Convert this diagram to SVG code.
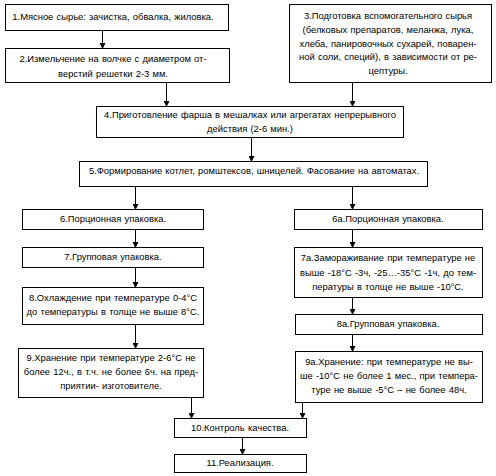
<svg xmlns="http://www.w3.org/2000/svg" width="496" height="476" viewBox="0 0 496 476">
<style>
.b{fill:#fff;stroke:#000;stroke-width:1}
.t{font-family:"Liberation Sans",Arial,sans-serif;font-size:9.4px;word-spacing:0.6px;fill:#000;text-anchor:middle}
.c{fill:none;stroke:#000;stroke-width:1}
</style>
<defs>
<marker id="a" markerWidth="6" markerHeight="6" refX="5" refY="3" orient="auto" markerUnits="userSpaceOnUse">
<path d="M0,0 L6,3 L0,6 Z" fill="#000"/>
</marker>
</defs>
<rect width="496" height="476" fill="#fff"/>
<g id="connectors">
<path class="c" d="M102.5,30 V48" marker-end="url(#a)"/>
<path class="c" d="M166.5,82 V106" marker-end="url(#a)"/>
<path class="c" d="M352.5,82 V106" marker-end="url(#a)"/>
<path class="c" d="M251.5,137 V161" marker-end="url(#a)"/>
<path class="c" d="M135.5,186 V209" marker-end="url(#a)"/>
<path class="c" d="M352.5,186 V209" marker-end="url(#a)"/>
<path class="c" d="M135.5,229 V247" marker-end="url(#a)"/>
<path class="c" d="M135.5,267 V287" marker-end="url(#a)"/>
<path class="c" d="M135.5,324 V348" marker-end="url(#a)"/>
<path class="c" d="M352.5,229 V247" marker-end="url(#a)"/>
<path class="c" d="M352.5,297 V314" marker-end="url(#a)"/>
<path class="c" d="M352.5,335 V351" marker-end="url(#a)"/>
<path class="c" d="M191.5,397 V418" marker-end="url(#a)"/>
<path class="c" d="M302.5,402 V418" marker-end="url(#a)"/>
<path class="c" d="M242.5,437 V454" marker-end="url(#a)"/>
</g>
<g id="n1"><rect class="b" x="5.5" y="4.5" width="223" height="26"/>
<text class="t" x="113" y="20">1.Мясное сырье: зачистка, обвалка, жиловка.</text></g>
<g id="n2"><rect class="b" x="5.5" y="48.5" width="224" height="34"/>
<text class="t" x="113" y="62">2.Измельчение на волчке с диаметром от-</text>
<text class="t" x="113" y="77">верстий решетки 2-3 мм.</text></g>
<g id="n3"><rect class="b" x="289.5" y="4.5" width="202" height="78"/>
<text class="t" x="388" y="19">3.Подготовка вспомогательного сырья</text>
<text class="t" x="388" y="33">(белковых препаратов, меланжа, лука,</text>
<text class="t" x="388" y="47">хлеба, панировочных сухарей, поварен-</text>
<text class="t" x="388" y="60">ной соли, специй), в зависимости от ре-</text>
<text class="t" x="388" y="74">цептуры.</text></g>
<g id="n4"><rect class="b" x="96.5" y="106.5" width="307" height="31"/>
<text class="t" x="250" y="118">4.Приготовление фарша в мешалках или агрегатах непрерывного</text>
<text class="t" x="250" y="132">действия (2-6 мин.)</text></g>
<g id="n5"><rect class="b" x="79.5" y="161.5" width="348" height="25"/>
<text class="t" x="254" y="174">5.Формирование котлет, ромштексов, шницелей. Фасование на автоматах.</text></g>
<g id="n6"><rect class="b" x="22.5" y="209.5" width="181" height="20"/>
<text class="t" x="113" y="222">6.Порционная упаковка.</text></g>
<g id="n7"><rect class="b" x="22.5" y="247.5" width="181" height="20"/>
<text class="t" x="113" y="260">7.Групповая упаковка.</text></g>
<g id="n8"><rect class="b" x="22.5" y="287.5" width="181" height="37"/>
<text class="t" x="113" y="301">8.Охлаждение при температуре 0-4°С</text>
<text class="t" x="113" y="315">до температуры в толще не выше 8°С.</text></g>
<g id="n9"><rect class="b" x="18.5" y="348.5" width="185" height="49"/>
<text class="t" x="111" y="361">9.Хранение при температуре 2-6°С не</text>
<text class="t" x="111" y="375">более 12ч., в т.ч. не более 6ч. на пред-</text>
<text class="t" x="111" y="389">приятии- изготовителе.</text></g>
<g id="n6a"><rect class="b" x="294.5" y="209.5" width="188" height="20"/>
<text class="t" x="388" y="222">6а.Порционная упаковка.</text></g>
<g id="n7a"><rect class="b" x="294.5" y="247.5" width="188" height="50"/>
<text class="t" x="388" y="261">7а.Замораживание при температуре не</text>
<text class="t" x="388" y="276">выше -18°С -3ч, -25…-35°С -1ч, до тем-</text>
<text class="t" x="388" y="290">пературы в толще не выше -10°С.</text></g>
<g id="n8a"><rect class="b" x="295.5" y="314.5" width="187" height="20"/>
<text class="t" x="388" y="327">8а.Групповая упаковка.</text></g>
<g id="n9a"><rect class="b" x="295.5" y="351.5" width="187" height="51"/>
<text class="t" x="389" y="365">9а.Хранение: при температуре не вы-</text>
<text class="t" x="389" y="379">ше -10°С не более 1 мес., при темпера-</text>
<text class="t" x="389" y="393">туре не выше -5°С – не более 48ч.</text></g>
<g id="n10"><rect class="b" x="174.5" y="418.5" width="132" height="19"/>
<text class="t" x="240" y="431">10.Контроль качества.</text></g>
<g id="n11"><rect class="b" x="174.5" y="454.5" width="132" height="18"/>
<text class="t" x="240" y="466">11.Реализация.</text></g>
</svg>
